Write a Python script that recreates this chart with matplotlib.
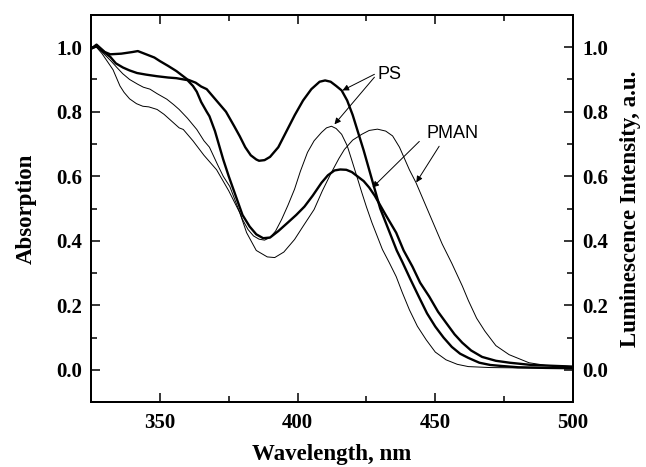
import matplotlib
matplotlib.use("Agg")
import matplotlib.pyplot as plt
from matplotlib.ticker import MultipleLocator

# PS absorption (thick)
ps_abs_wl = [325, 327, 330, 332, 336, 340, 342, 345, 348, 350, 353, 356, 360, 363, 365, 367, 369,
             372, 374, 377, 379, 381, 383, 385, 386, 388, 390, 393, 396, 399, 402, 405, 408, 410,
             412, 414, 416, 418, 420, 422, 424, 426, 428, 430, 433, 436, 438, 441, 444, 447, 450,
             453, 456, 459, 462, 466, 470, 474, 480, 490, 500]
ps_abs = [0.995, 1.008, 0.985, 0.978, 0.98, 0.985, 0.988, 0.978, 0.968, 0.957, 0.942, 0.926, 0.90,
          0.89, 0.878, 0.87, 0.85, 0.82, 0.80, 0.755, 0.724, 0.69, 0.665, 0.652, 0.648, 0.65, 0.66,
          0.69, 0.74, 0.79, 0.835, 0.87, 0.893, 0.897, 0.893, 0.88, 0.866, 0.835, 0.79, 0.735,
          0.68, 0.62, 0.56, 0.50, 0.435, 0.37, 0.335, 0.28, 0.227, 0.175, 0.134, 0.10, 0.071, 0.05,
          0.037, 0.022, 0.015, 0.012, 0.008, 0.006, 0.005]

# PMAN absorption (thick)
pman_abs_wl = [325, 327, 329, 332, 334, 336.6, 339, 341.7, 345, 349, 353, 356, 360, 362, 363.4, 365,
               367, 368, 370, 373, 375, 378, 380, 382.6, 385, 387.5, 390, 393, 396.4, 399.5, 402.5,
               405.5, 408.7, 411, 413.4, 415.5, 417.7, 419.7, 421.7, 424, 426, 428, 430, 432, 435.8,
               438.5, 441.7, 444.5, 447.8, 451, 453.9, 457, 459.8, 463, 467, 472, 477, 485, 500]
pman_abs = [0.995, 1.005, 0.99, 0.97, 0.95, 0.937, 0.928, 0.92, 0.915, 0.91, 0.906, 0.904, 0.898,
            0.88, 0.862, 0.83, 0.80, 0.786, 0.74, 0.652, 0.60, 0.528, 0.48, 0.444, 0.42, 0.408,
            0.41, 0.43, 0.456, 0.48, 0.506, 0.54, 0.58, 0.603, 0.618, 0.621, 0.62, 0.613, 0.60,
            0.585, 0.565, 0.54, 0.51, 0.48, 0.425, 0.37, 0.32, 0.27, 0.227, 0.18, 0.146, 0.11,
            0.084, 0.06, 0.04, 0.028, 0.022, 0.015, 0.01]

# PS luminescence (thin)
ps_lum_wl = [325, 327, 329, 330.8, 332.5, 334.4, 336.5, 339, 342, 344, 346.4, 349, 352.5, 355, 357,
             360, 363.4, 366, 368, 371, 373, 375.4, 378, 380, 382, 384, 386, 388, 390, 392, 394.2,
             396.5, 398.9, 401, 403.6, 406, 408.7, 410.5, 412.3, 414, 416, 418, 419.6, 421.5,
             423.3, 425, 427, 430.8, 433.3, 435.8, 438, 440.6, 443.5, 446.7, 450, 453.9, 458,
             462, 470, 480, 500]
ps_lum = [0.995, 1.0, 0.985, 0.97, 0.955, 0.937, 0.918, 0.90, 0.885, 0.876, 0.87, 0.856, 0.839,
          0.822, 0.807, 0.78, 0.745, 0.71, 0.69, 0.635, 0.60, 0.568, 0.51, 0.466, 0.435, 0.415,
          0.405, 0.402, 0.41, 0.43, 0.466, 0.51, 0.56, 0.615, 0.674, 0.71, 0.736, 0.75, 0.755,
          0.748, 0.73, 0.695, 0.652, 0.6, 0.55, 0.505, 0.456, 0.373, 0.332, 0.289, 0.24, 0.186,
          0.135, 0.093, 0.055, 0.031, 0.017, 0.01, 0.007, 0.006, 0.005]

# PMAN luminescence (thin)
pman_lum_wl = [325, 327, 329, 331, 333, 335.5, 337, 339, 341.5, 343.8, 346, 349, 351.5, 353.6, 357,
               358.5, 362, 366, 370.6, 375, 379, 381.5, 385, 389, 391.7, 395, 398.9, 402, 406,
               409, 412.3, 415, 417, 420, 423.3, 426, 429, 432, 434.5, 437, 440.6, 443, 446,
               449, 452.5, 456, 459.8, 462, 465, 468, 472, 476.8, 484, 490, 500]
pman_lum = [0.995, 1.0, 0.98, 0.955, 0.93, 0.88, 0.86, 0.84, 0.825, 0.817, 0.815, 0.807, 0.792,
            0.776, 0.75, 0.745, 0.71, 0.665, 0.62, 0.555, 0.487, 0.425, 0.37, 0.35, 0.348, 0.365,
            0.404, 0.445, 0.497, 0.555, 0.612, 0.655, 0.683, 0.712, 0.73, 0.742, 0.746, 0.74,
            0.725, 0.69, 0.62, 0.58, 0.52, 0.46, 0.39, 0.33, 0.26, 0.215, 0.16, 0.12, 0.075,
            0.047, 0.022, 0.014, 0.01]

x_ticks = [350, 400, 450, 500]
y_ticks = [0.0, 0.2, 0.4, 0.6, 0.8, 1.0]

serif = ['Liberation Serif', 'DejaVu Serif']
sans = ['Liberation Sans', 'DejaVu Sans']

fig = plt.figure(figsize=(6.46, 4.67), dpi=100)
ax = fig.add_axes([0.1409, 0.139, 0.887 - 0.1409, 0.968 - 0.139])

ax.plot(ps_abs_wl, ps_abs, color='black', lw=1.7)
ax.plot(pman_abs_wl, pman_abs, color='black', lw=1.7)
ax.plot(ps_lum_wl, ps_lum, color='black', lw=0.7)
ax.plot(pman_lum_wl, pman_lum, color='black', lw=0.7)

ax.set_xlim(325, 500)
ax.set_ylim(-0.1, 1.1)
ax.set_xticks(x_ticks)
ax.set_yticks(y_ticks)
ax.xaxis.set_minor_locator(MultipleLocator(25))
ax.yaxis.set_minor_locator(MultipleLocator(0.1))
ax.set_yticklabels([f"{v:.1f}" for v in y_ticks])

ax2 = ax.twinx()
ax2.set_ylim(-0.1, 1.1)
ax2.set_yticks(y_ticks)
ax2.set_yticklabels([f"{v:.1f}" for v in y_ticks])
ax2.yaxis.set_minor_locator(MultipleLocator(0.1))

for a in (ax, ax2):
    for s in a.spines.values():
        s.set_linewidth(1.4)
ax.tick_params(which='major', direction='in', length=6.5, width=1.1, top=True,
               labelsize=15, pad=6.5)
ax.tick_params(axis='x', which='major', pad=8)
ax.tick_params(which='minor', direction='in', length=4, width=1.1, top=True)
ax2.tick_params(which='major', direction='in', length=6.5, width=1.1, labelsize=15, pad=6.5)
ax2.tick_params(which='minor', direction='in', length=4, width=1.1)

for lab in ax.get_xticklabels() + ax.get_yticklabels() + ax2.get_yticklabels():
    lab.set_family(serif)
    lab.set_fontweight('bold')

ax.set_xlabel('Wavelength, nm', family=serif, fontweight='bold', fontsize=16.5)
ax.set_ylabel('Absorption', family=serif, fontweight='bold', fontsize=16.5)
ax2.set_ylabel('Luminescence Intensity, a.u.', family=serif, fontweight='bold', fontsize=16.5)
ax.xaxis.set_label_coords(0.5, -0.108)
ax.yaxis.set_label_coords(-0.112, 0.5)
ax2.yaxis.set_label_coords(1.098, 0.5)

arrow = dict(arrowstyle='-|>', color='black', lw=0.7, mutation_scale=9, shrinkA=0, shrinkB=0)
ax.text(429.0, 0.916, 'PS', family=sans, fontsize=13, va='center', ha='left')
ax.annotate('', xy=(416.3, 0.866), xytext=(427.9, 0.916), arrowprops=arrow)
ax.annotate('', xy=(413.4, 0.761), xytext=(427.9, 0.907), arrowprops=arrow)
ax.text(446.7, 0.733, 'PMAN', family=sans, fontsize=13, va='center', ha='left')
ax.annotate('', xy=(427.2, 0.565), xytext=(444.2, 0.708), arrowprops=arrow)
ax.annotate('', xy=(443.1, 0.581), xytext=(451.4, 0.693), arrowprops=arrow)

fig.savefig('out.png', dpi=100)
